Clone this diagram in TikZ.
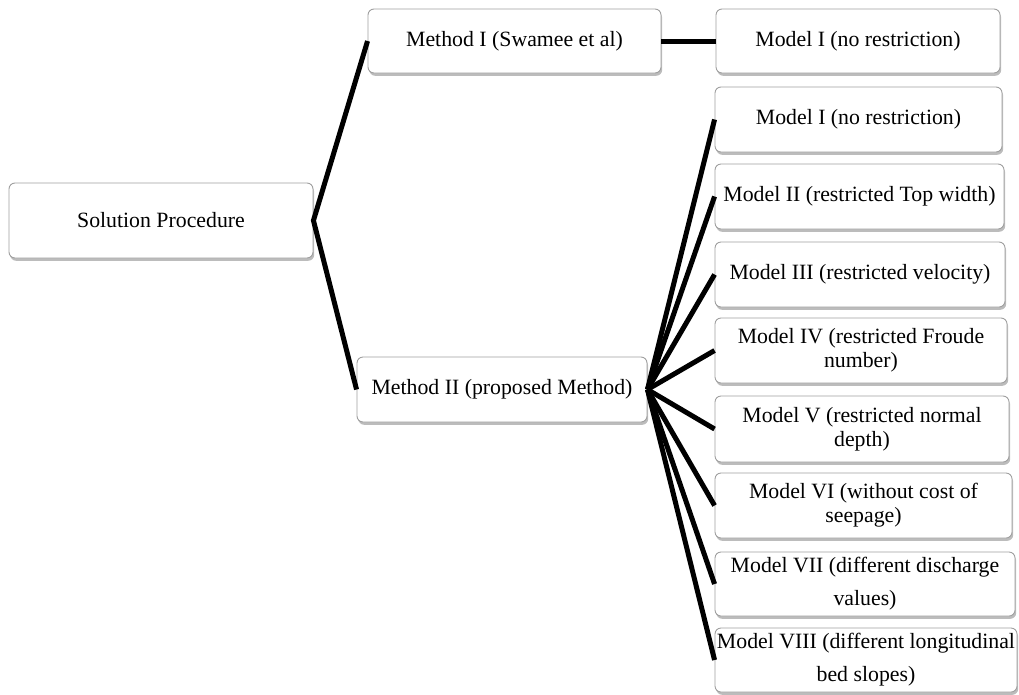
\documentclass[tikz,border=0pt]{standalone}
\usepackage{fontspec}
\setmainfont{Liberation Serif}
\usetikzlibrary{shadows}
\tikzset{
  box/.style={draw=gray!75, line width=0.9pt, rounded corners=6pt, fill=white,
    align=center, inner sep=1pt,
    drop shadow={shadow xshift=1.2pt, shadow yshift=-2.8pt, fill=gray!75, opacity=0.7},
    font=\fontsize{21.8}{24}\selectfont},
  widebox/.style={box, font=\fontsize{21.8}{33}\selectfont},
  link/.style={line width=5pt, black}
}
\newcommand{\bx}[7]{% name, x1, y1, x2, y2, style, text
  \node[#6, minimum width={#4-#2}, minimum height={#5-#3}] (#1) at ({(#2+#4)/2},{(#3+#5)/2}) {#7};}
\begin{document}
\begin{tikzpicture}[x=1pt,y=-1pt]
\useasboundingbox (0,0) rectangle (1019,694);
\bx{sol}{9}{183}{313}{258}{box}{Solution Procedure}
\bx{mI}{368}{9}{661}{73}{box}{Method I (Swamee et al)}
\bx{mII}{357}{357}{647}{422}{box}{Method II (proposed Method)}
\bx{a0}{716}{9}{1000}{73}{box}{Model I (no restriction)}
\bx{b1}{715}{87}{1002}{152}{box}{Model I (no restriction)}
\bx{b2}{715}{164}{1004}{229}{box}{Model II (restricted Top width)}
\bx{b3}{715}{242}{1005}{307}{box}{Model III (restricted velocity)}
\bx{b4}{715}{318}{1007}{383}{box}{Model IV (restricted Froude\\number)}
\bx{b5}{715}{396}{1009}{462}{box}{Model V (restricted normal\\depth)}
\bx{b6}{715}{473}{1012}{538}{box}{Model VI (without cost of\\seepage)}
\bx{b7}{715}{552}{1015}{616}{widebox}{Model VII (different discharge\\values)}
\bx{b8}{715}{628}{1017}{692}{widebox}{Model VIII (different longitudinal\\bed slopes)}
\draw[link] (mI.west) -- (sol.east) -- (mII.west);
\draw[link] (mI.east) -- (a0.west);
\foreach \t in {b1,b2,b3,b4,b5,b6,b7,b8}
  \draw[link] (mII.east) -- (\t.west);
\end{tikzpicture}
\end{document}
